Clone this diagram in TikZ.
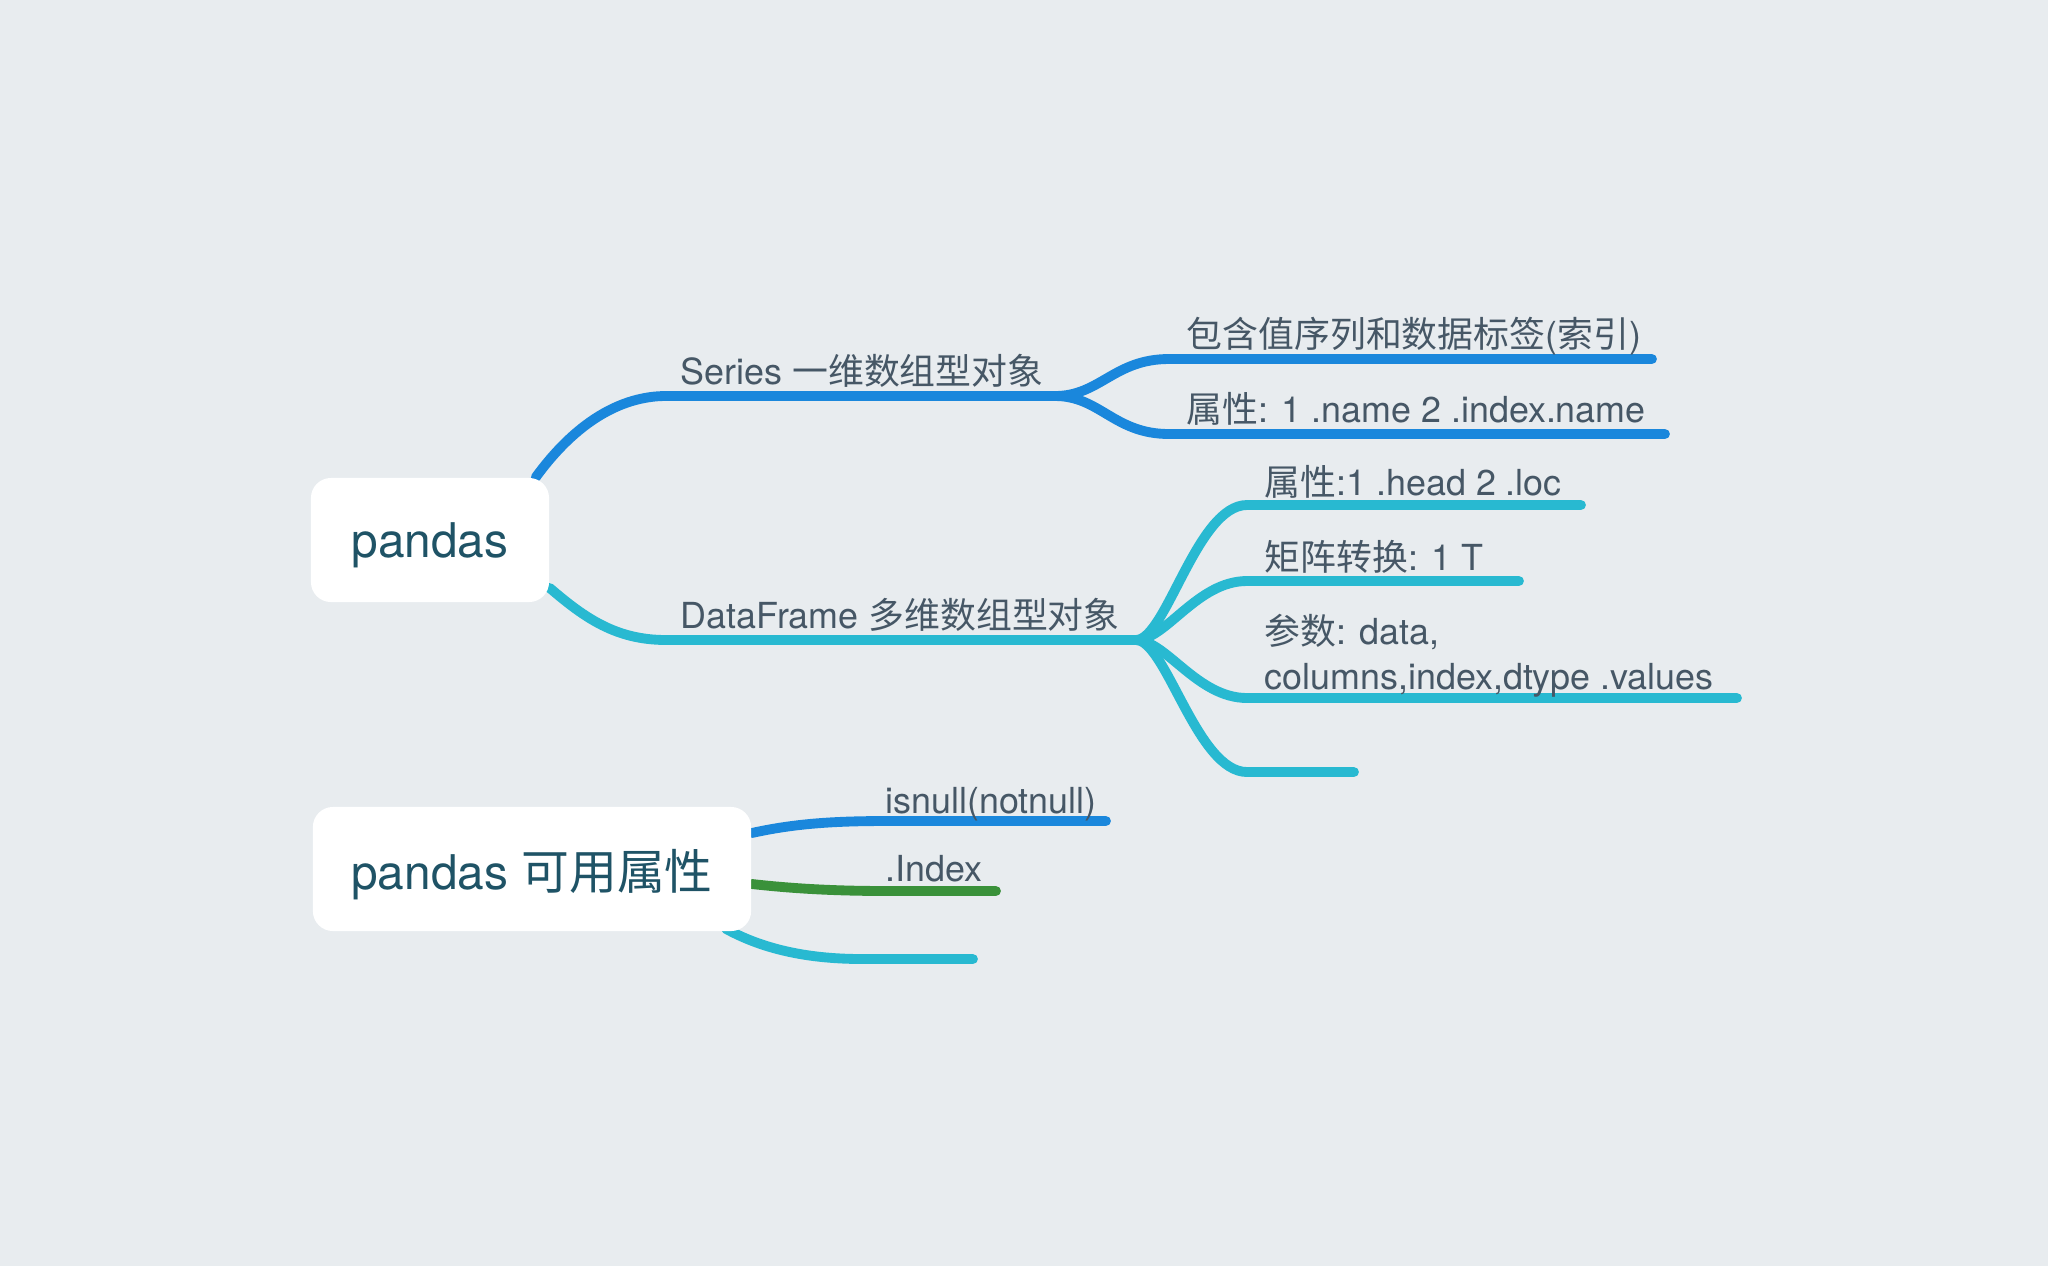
\documentclass[tikz,border=0pt]{standalone}
\usepackage{fontspec}
\setmainfont{TeX Gyre Heros}
\newfontfamily\cjk{Noto Sans CJK SC}
\usetikzlibrary{calc,backgrounds}

\definecolor{paper}{HTML}{E8ECEF}
\definecolor{seriesblue}{HTML}{1A87DC}
\definecolor{framecyan}{HTML}{28B9D1}
\definecolor{indexgreen}{HTML}{3A913A}
\definecolor{leaftext}{HTML}{465766}
\definecolor{topictext}{HTML}{1F5366}

\begin{document}
\begin{tikzpicture}[x=0.01cm, y=-0.01cm,
    topic/.style={fill=white, rounded corners=0.2cm, minimum width=2.38cm,
        minimum height=1.24cm, text=topictext, text depth=0pt,
        font=\fontsize{13.6}{15}\selectfont},
    leaf/.style={anchor=base west, inner sep=0pt, text=leaftext,
        font=\fontsize{10.2}{12.9}\selectfont},
    branch/.style={line width=2.8pt, line cap=round}]

    % Topics
    \node[topic] (pandas) at (430,540) {pandas};
    \node[topic, minimum width=4.38cm] (attrs) at (532,869) {pandas {\cjk 可用属性}};

    % Series
    \coordinate (series-a) at (666,396);
    \coordinate (series-b) at (1055,396);
    \coordinate (values-a) at (1169,359);
    \coordinate (values-b) at (1652,359);
    \coordinate (name-a) at (1169,434);
    \coordinate (name-b) at (1665,434);
    \node[leaf] (series) at ($(series-a)+(14,-12)$) {Series {\cjk 一维数组型对象}};
    \node[leaf] (values) at ($(values-a)+(17,-12)$) {{\cjk 包含值序列和数据标签}({\cjk 索引})};
    \node[leaf] (name) at ($(name-a)+(17,-12)$) {{\cjk 属性}: 1 .name 2 .index.name};

    % DataFrame
    \coordinate (frame-a) at (666,640);
    \coordinate (frame-b) at (1136,640);
    \coordinate (head-a) at (1247,505);
    \coordinate (head-b) at (1581,505);
    \coordinate (trans-a) at (1247,581);
    \coordinate (trans-b) at (1519,581);
    \coordinate (param-a) at (1247,698);
    \coordinate (param-b) at (1737,698);
    \coordinate (empty-a) at (1247,772);
    \coordinate (empty-b) at (1354,772);
    \node[leaf] (frame) at ($(frame-a)+(14,-12)$) {DataFrame {\cjk 多维数组型对象}};
    \node[leaf] (head) at ($(head-a)+(17,-10)$) {{\cjk 属性}:1 .head 2 .loc};
    \node[leaf] (trans) at ($(trans-a)+(17,-11)$) {{\cjk 矩阵转换}: 1 T};
    \node[leaf, anchor=south west, align=left] (param) at ($(param-a)+(17,0)$)
        {{\cjk 参数}: data,\\columns,index,dtype .values};

    % attributes
    \coordinate (null-a) at (888,821);
    \coordinate (null-b) at (1106,821);
    \coordinate (index-a) at (888,891);
    \coordinate (index-b) at (996,891);
    \coordinate (blank-a) at (862,959);
    \coordinate (blank-b) at (973,959);
    \node[leaf] (null) at ($(null-a)+(-3,-8)$) {isnull(notnull)};
    \node[leaf] (index) at ($(index-a)+(-3,-10)$) {.Index};

    \begin{pgfonlayer}{background}
        \fill[paper] (0,0) rectangle (2048,1266);
        % Series branches
        \draw[branch, seriesblue] ($(pandas.north east)+(-14,0)$)
            .. controls +(40,-55) and +(-45,0) .. (series-a) -- (series-b);
        \foreach \t in {values, name}
            \draw[branch, seriesblue] (series-b)
                .. controls +(45,0) and +(-55,0) .. (\t-a) -- (\t-b);
        % DataFrame branches
        \draw[branch, framecyan] ($(pandas.east)+(0,48)$)
            .. controls +(35,30) and +(-50,0) .. (frame-a) -- (frame-b);
        \foreach \t in {head, trans, param, empty}
            \draw[branch, framecyan] (frame-b)
                .. controls +(30,0) and +(-50,0) .. (\t-a) -- (\t-b);
        % attribute branches
        \draw[branch, seriesblue] ($(attrs.east)+(0,-36)$)
            .. controls +(45,-10) and +(-50,0) .. (null-a) -- (null-b);
        \draw[branch, indexgreen] ($(attrs.east)+(0,15)$)
            .. controls +(45,5) and +(-50,0) .. (index-a) -- (index-b);
        \draw[branch, framecyan] ($(attrs.south east)+(-26,-3)$)
            .. controls +(40,22) and +(-50,0) .. (blank-a) -- (blank-b);
    \end{pgfonlayer}
\end{tikzpicture}
\end{document}
